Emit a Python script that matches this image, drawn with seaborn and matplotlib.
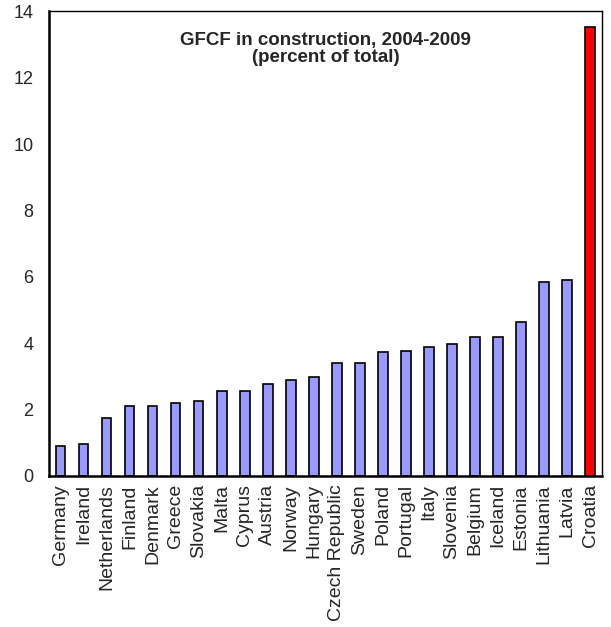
import numpy as np
import matplotlib
matplotlib.use("Agg")
import matplotlib.pyplot as plt
import seaborn as sns

# GFCF in construction, 2004-2009 (percent of total)
countries = ["Germany", "Ireland", "Netherlands", "Finland", "Denmark", "Greece",
             "Slovakia", "Malta", "Cyprus", "Austria", "Norway", "Hungary",
             "Czech Republic", "Sweden", "Poland", "Portugal", "Italy", "Slovenia",
             "Belgium", "Iceland", "Estonia", "Lithuania", "Latvia", "Croatia"]
values = [0.90, 0.97, 1.74, 2.10, 2.10, 2.20, 2.26, 2.57, 2.57, 2.78, 2.89, 2.99,
          3.40, 3.40, 3.72, 3.77, 3.87, 3.97, 4.18, 4.18, 4.65, 5.84, 5.90, 13.54]
highlight = "Croatia"

sns.set_style("white")
plt.rcParams['font.family'] = ['Liberation Sans', 'DejaVu Sans']

colors = {c: ("#FF0000" if c == highlight else "#9999FF") for c in countries}

fig, ax = plt.subplots(figsize=(6.11, 6.27), dpi=100)
fig.subplots_adjust(left=0.080, right=0.985, top=0.982, bottom=0.241)

sns.barplot(x=countries, y=values, hue=countries, palette=colors, legend=False,
            width=0.42, edgecolor="black", linewidth=1.2, saturation=1, ax=ax)

ax.set_xlim(-0.5, len(countries) - 0.5)
ax.set_ylim(0, 14)
ax.set_yticks(np.arange(0, 15, 2))
ax.set_xticks(range(len(countries)))
ax.set_xticklabels(countries, rotation=90, fontsize=14)
ax.set_xticks(np.arange(-0.5, len(countries), 1), minor=True)
ax.tick_params(axis="x", which="major", length=0, pad=6)
ax.tick_params(axis="x", which="minor", direction="in", length=4, width=1)
ax.tick_params(axis="y", direction="in", length=4, width=1, labelsize=13, pad=11)
ax.set_xlabel("")
ax.set_ylabel("")

for side in ["left", "bottom"]:
    ax.spines[side].set_linewidth(1.8)
for side in ["top", "right"]:
    ax.spines[side].set_linewidth(1.0)
for s in ax.spines.values():
    s.set_color("black")
    s.set_visible(True)

ax.text(0.5, 0.919, "GFCF in construction, 2004-2009\n(percent of total)",
        transform=ax.transAxes, ha="center", va="center", fontsize=13.5,
        fontweight="bold", linespacing=1.0)

plt.savefig("out.png", dpi=100)
